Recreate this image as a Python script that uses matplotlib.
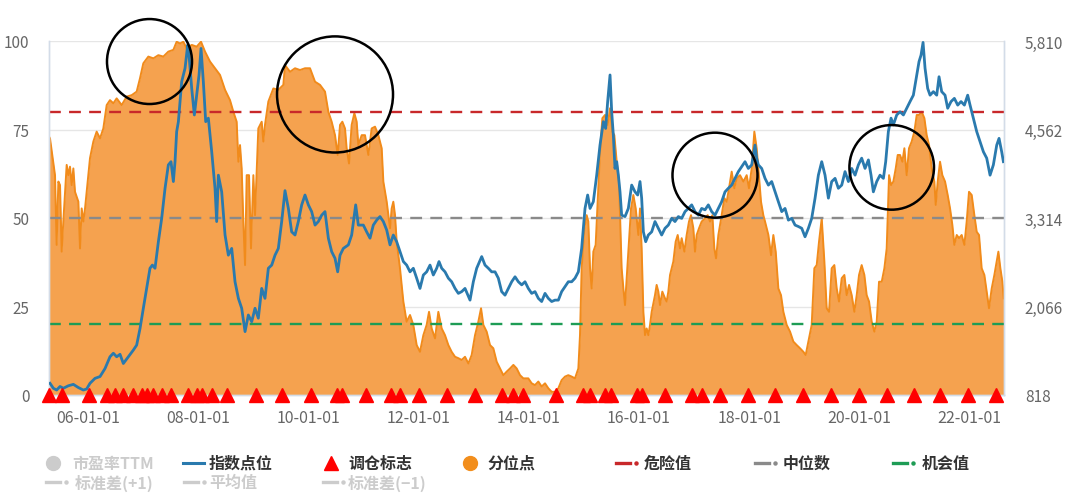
import matplotlib
matplotlib.use('Agg')
import matplotlib.pyplot as plt
from matplotlib.patches import Ellipse
from matplotlib.lines import Line2D

plt.rcParams['font.family'] = ['Noto Sans CJK SC', 'DejaVu Sans']

# 分位点 (left axis, %), x = decimal year
pct_dates = [
    2005.292, 2005.310, 2005.401, 2005.431, 2005.462, 2005.492, 2005.522, 2005.552, 2005.613, 2005.643,
    2005.673, 2005.704, 2005.734, 2005.764, 2005.825, 2005.855, 2005.885, 2005.915, 2005.946, 2005.976,
    2006.036, 2006.097, 2006.157, 2006.218, 2006.278, 2006.339, 2006.399, 2006.460, 2006.520, 2006.611,
    2006.702, 2006.793, 2006.883, 2006.944, 2007.004, 2007.095, 2007.186, 2007.277, 2007.367, 2007.458,
    2007.549, 2007.609, 2007.670, 2007.730, 2007.791, 2007.882, 2007.972, 2008.051, 2008.124, 2008.214,
    2008.305, 2008.396, 2008.487, 2008.577, 2008.638, 2008.698, 2008.729, 2008.759, 2008.789, 2008.819,
    2008.850, 2008.880, 2008.922, 2008.958, 2009.001, 2009.031, 2009.091, 2009.152, 2009.182, 2009.212,
    2009.273, 2009.364, 2009.454, 2009.545, 2009.575, 2009.666, 2009.757, 2009.848, 2009.938, 2010.029,
    2010.120, 2010.211, 2010.301, 2010.362, 2010.422, 2010.483, 2010.531, 2010.574, 2010.616, 2010.664,
    2010.694, 2010.737, 2010.785, 2010.834, 2010.876, 2010.906, 2010.967, 2011.027, 2011.088, 2011.148,
    2011.209, 2011.269, 2011.330, 2011.360, 2011.421, 2011.481, 2011.511, 2011.541, 2011.572, 2011.602,
    2011.662, 2011.723, 2011.783, 2011.844, 2011.904, 2011.965, 2012.025, 2012.086, 2012.146, 2012.189,
    2012.237, 2012.298, 2012.358, 2012.419, 2012.479, 2012.540, 2012.600, 2012.661, 2012.721, 2012.782,
    2012.842, 2012.903, 2012.963, 2013.024, 2013.084, 2013.133, 2013.175, 2013.235, 2013.296, 2013.356,
    2013.417, 2013.477, 2013.538, 2013.598, 2013.659, 2013.720, 2013.780, 2013.841, 2013.901, 2013.991,
    2014.052, 2014.112, 2014.173, 2014.233, 2014.294, 2014.354, 2014.415, 2014.475, 2014.536, 2014.596,
    2014.657, 2014.717, 2014.778, 2014.838, 2014.899, 2014.929, 2014.959, 2015.008, 2015.050, 2015.080,
    2015.111, 2015.141, 2015.171, 2015.213, 2015.250, 2015.292, 2015.335, 2015.383, 2015.431, 2015.474,
    2015.516, 2015.552, 2015.595, 2015.637, 2015.685, 2015.716, 2015.746, 2015.806, 2015.855, 2015.897,
    2015.940, 2015.988, 2016.018, 2016.048, 2016.079, 2016.109, 2016.139, 2016.169, 2016.200, 2016.230,
    2016.290, 2016.320, 2016.351, 2016.381, 2016.423, 2016.472, 2016.502, 2016.532, 2016.563, 2016.593,
    2016.623, 2016.665, 2016.702, 2016.744, 2016.774, 2016.823, 2016.865, 2016.907, 2016.944, 2016.986,
    2017.016, 2017.046, 2017.089, 2017.137, 2017.198, 2017.246, 2017.289, 2017.331, 2017.367, 2017.398,
    2017.440, 2017.470, 2017.500, 2017.549, 2017.591, 2017.633, 2017.682, 2017.730, 2017.773, 2017.833,
    2017.894, 2017.954, 2017.996, 2018.045, 2018.093, 2018.135, 2018.166, 2018.214, 2018.256, 2018.287,
    2018.348, 2018.396, 2018.438, 2018.481, 2018.529, 2018.577, 2018.620, 2018.680, 2018.741, 2018.801,
    2018.862, 2018.922, 2018.983, 2019.025, 2019.074, 2019.134, 2019.182, 2019.225, 2019.267, 2019.316,
    2019.364, 2019.406, 2019.449, 2019.497, 2019.545, 2019.588, 2019.630, 2019.679, 2019.727, 2019.769,
    2019.812, 2019.860, 2019.908, 2019.951, 2019.993, 2020.041, 2020.090, 2020.132, 2020.175, 2020.223,
    2020.271, 2020.314, 2020.356, 2020.405, 2020.453, 2020.495, 2020.538, 2020.574, 2020.616, 2020.659,
    2020.695, 2020.737, 2020.780, 2020.816, 2020.858, 2020.900, 2020.949, 2020.997, 2021.040, 2021.082,
    2021.130, 2021.179, 2021.221, 2021.264, 2021.312, 2021.360, 2021.385, 2021.421, 2021.463, 2021.505,
    2021.554, 2021.602, 2021.645, 2021.687, 2021.723, 2021.766, 2021.808, 2021.856, 2021.905, 2021.947,
    2021.989, 2022.038, 2022.086, 2022.129, 2022.171, 2022.219, 2022.268, 2022.310, 2022.352, 2022.401,
    2022.449, 2022.492, 2022.522, 2022.558, 2022.595, 2022.619,
]
pct_values = [
    73.0, 72.5, 62.1, 42.4, 60.3, 59.3, 40.5, 49.0, 65.0, 62.1,
    64.5, 59.3, 64.0, 57.4, 54.6, 41.4, 52.7, 49.0, 52.7, 57.4,
    66.9, 71.6, 74.4, 72.5, 75.3, 81.9, 83.3, 82.4, 83.8, 81.9,
    84.3, 84.7, 85.7, 89.5, 93.7, 95.6, 95.1, 96.0, 95.6, 97.0,
    97.5, 99.8, 99.3, 99.8, 97.9, 98.9, 98.4, 99.8, 97.0, 94.2,
    92.3, 90.4, 86.2, 83.3, 80.0, 77.2, 65.9, 70.6, 64.0, 49.0,
    36.7, 62.1, 62.1, 41.4, 62.1, 50.8, 75.3, 77.2, 71.6, 76.3,
    82.9, 86.6, 86.2, 87.6, 93.2, 91.3, 92.3, 91.8, 92.3, 92.3,
    88.5, 87.6, 85.7, 80.0, 77.2, 73.4, 67.8, 76.3, 77.2, 75.3,
    69.7, 65.4, 76.3, 79.6, 77.2, 70.6, 73.4, 73.4, 67.8, 75.3,
    75.8, 73.4, 69.7, 60.3, 54.6, 47.1, 52.7, 54.6, 50.8, 43.3,
    35.8, 26.4, 20.7, 22.6, 19.8, 14.1, 12.2, 16.9, 19.8, 23.5,
    18.8, 16.0, 23.5, 18.8, 16.9, 14.1, 12.2, 10.8, 10.4, 9.9,
    10.8, 8.9, 11.3, 16.9, 20.7, 24.5, 19.8, 17.9, 14.1, 13.2,
    9.4, 7.5, 5.6, 6.6, 7.5, 8.5, 7.5, 5.6, 4.7, 4.7,
    3.3, 2.8, 3.8, 2.4, 3.3, 1.9, 0.9, 0.9, 1.9, 4.2,
    5.2, 5.6, 5.2, 4.7, 7.5, 16.9, 35.8, 47.1, 50.8, 49.0,
    35.8, 30.1, 40.5, 42.4, 54.6, 68.7, 78.2, 79.1, 76.3, 81.0,
    74.4, 73.4, 65.9, 60.3, 35.8, 30.1, 25.4, 40.5, 52.7, 56.5,
    52.7, 45.2, 52.7, 41.4, 23.5, 16.9, 18.8, 16.9, 19.8, 23.5,
    28.2, 31.1, 29.2, 25.4, 29.2, 27.3, 26.4, 29.2, 33.9, 35.8,
    37.7, 43.3, 45.2, 41.4, 44.3, 40.5, 45.2, 49.0, 50.8, 47.1,
    40.5, 45.2, 47.1, 49.0, 49.9, 50.8, 49.0, 50.8, 41.4, 38.6,
    45.2, 48.0, 50.8, 55.6, 54.6, 58.4, 63.1, 58.4, 61.2, 62.1,
    60.3, 62.1, 58.4, 64.0, 74.4, 69.7, 64.0, 54.6, 50.8, 49.0,
    45.2, 39.5, 45.2, 40.5, 30.1, 28.2, 23.5, 19.8, 17.9, 15.1,
    14.1, 13.2, 12.2, 11.3, 15.1, 19.8, 35.8, 36.7, 43.3, 49.9,
    37.7, 24.5, 23.5, 35.8, 36.7, 30.1, 26.4, 33.0, 33.9, 28.2,
    31.1, 28.2, 23.5, 28.2, 33.9, 36.7, 33.9, 28.2, 26.4, 20.7,
    17.9, 20.7, 32.0, 32.0, 35.8, 41.4, 62.1, 59.3, 60.3, 64.0,
    67.8, 67.8, 65.9, 69.7, 62.1, 69.7, 71.6, 74.4, 79.1, 79.1,
    80.0, 78.2, 73.4, 70.6, 64.0, 60.3, 53.7, 60.3, 65.9, 62.1,
    60.3, 56.5, 52.7, 48.0, 42.4, 45.2, 44.3, 45.2, 42.4, 49.0,
    57.4, 56.5, 50.8, 46.1, 45.2, 35.8, 33.9, 29.2, 24.5, 30.1,
    33.9, 37.7, 40.5, 35.8, 32.0, 27.3,
]

# 指数点位 (right axis)
idx_dates = [
    2005.310, 2005.371, 2005.431, 2005.492, 2005.552, 2005.643, 2005.734, 2005.825, 2005.915, 2005.976,
    2006.036, 2006.127, 2006.218, 2006.309, 2006.399, 2006.460, 2006.520, 2006.581, 2006.641, 2006.732,
    2006.823, 2006.883, 2006.944, 2007.004, 2007.065, 2007.125, 2007.168, 2007.216, 2007.277, 2007.337,
    2007.398, 2007.458, 2007.506, 2007.549, 2007.579, 2007.609, 2007.640, 2007.700, 2007.761, 2007.809,
    2007.833, 2007.882, 2007.930, 2007.972, 2008.015, 2008.051, 2008.093, 2008.136, 2008.184, 2008.245,
    2008.305, 2008.335, 2008.366, 2008.426, 2008.487, 2008.547, 2008.608, 2008.668, 2008.729, 2008.789,
    2008.850, 2008.910, 2008.971, 2009.031, 2009.091, 2009.152, 2009.212, 2009.273, 2009.334, 2009.394,
    2009.454, 2009.515, 2009.575, 2009.636, 2009.696, 2009.757, 2009.817, 2009.878, 2009.938, 2009.999,
    2010.059, 2010.120, 2010.180, 2010.241, 2010.301, 2010.362, 2010.422, 2010.483, 2010.531, 2010.574,
    2010.634, 2010.725, 2010.785, 2010.858, 2010.906, 2010.997, 2011.057, 2011.118, 2011.178, 2011.239,
    2011.299, 2011.360, 2011.421, 2011.481, 2011.541, 2011.602, 2011.662, 2011.723, 2011.783, 2011.844,
    2011.904, 2011.965, 2012.025, 2012.086, 2012.146, 2012.207, 2012.267, 2012.328, 2012.370, 2012.419,
    2012.479, 2012.540, 2012.600, 2012.661, 2012.721, 2012.782, 2012.842, 2012.933, 2012.993, 2013.054,
    2013.145, 2013.205, 2013.266, 2013.326, 2013.387, 2013.447, 2013.507, 2013.568, 2013.629, 2013.689,
    2013.750, 2013.810, 2013.871, 2013.931, 2013.991, 2014.052, 2014.112, 2014.173, 2014.233, 2014.294,
    2014.354, 2014.415, 2014.475, 2014.536, 2014.596, 2014.657, 2014.717, 2014.778, 2014.838, 2014.899,
    2014.959, 2015.020, 2015.068, 2015.111, 2015.171, 2015.232, 2015.292, 2015.353, 2015.395, 2015.431,
    2015.474, 2015.504, 2015.534, 2015.564, 2015.595, 2015.625, 2015.655, 2015.685, 2015.746, 2015.806,
    2015.867, 2015.927, 2015.976, 2016.018, 2016.048, 2016.079, 2016.121, 2016.169, 2016.230, 2016.290,
    2016.351, 2016.411, 2016.472, 2016.532, 2016.593, 2016.653, 2016.714, 2016.774, 2016.835, 2016.895,
    2016.956, 2017.016, 2017.077, 2017.137, 2017.198, 2017.258, 2017.319, 2017.379, 2017.440, 2017.500,
    2017.561, 2017.621, 2017.682, 2017.742, 2017.803, 2017.863, 2017.924, 2017.984, 2018.045, 2018.105,
    2018.135, 2018.166, 2018.226, 2018.287, 2018.348, 2018.408, 2018.469, 2018.529, 2018.590, 2018.650,
    2018.711, 2018.771, 2018.832, 2018.892, 2018.953, 2019.013, 2019.074, 2019.134, 2019.195, 2019.255,
    2019.316, 2019.376, 2019.437, 2019.497, 2019.558, 2019.618, 2019.679, 2019.739, 2019.800, 2019.860,
    2019.921, 2019.981, 2020.041, 2020.102, 2020.163, 2020.211, 2020.253, 2020.314, 2020.374, 2020.435,
    2020.477, 2020.525, 2020.574, 2020.616, 2020.677, 2020.737, 2020.798, 2020.858, 2020.919, 2020.979,
    2021.040, 2021.082, 2021.118, 2021.155, 2021.191, 2021.239, 2021.282, 2021.342, 2021.403, 2021.445,
    2021.493, 2021.554, 2021.602, 2021.663, 2021.723, 2021.784, 2021.844, 2021.905, 2021.965, 2022.008,
    2022.068, 2022.129, 2022.189, 2022.250, 2022.310, 2022.371, 2022.431, 2022.492, 2022.534, 2022.582,
    2022.613,
]
idx_values = [
    983, 913, 888, 938, 913, 948, 968, 923, 888, 903,
    983, 1053, 1078, 1192, 1357, 1407, 1357, 1392, 1262, 1357,
    1452, 1522, 1756, 2041, 2321, 2605, 2650, 2605, 2980, 3309,
    3733, 4063, 4108, 3828, 4108, 4532, 4672, 5236, 5426, 5755,
    5610, 5141, 4767, 5046, 5331, 5705, 5236, 4672, 4722, 4248,
    3733, 3264, 3918, 3683, 3074, 2790, 2885, 2415, 2181, 2041,
    1712, 1946, 1851, 2041, 1901, 2321, 2181, 2605, 2650, 2790,
    2885, 3264, 3700, 3449, 3119, 3074, 3264, 3499, 3638, 3499,
    3404, 3214, 3264, 3354, 3404, 3029, 2840, 2745, 2555, 2790,
    2885, 2935, 3074, 3499, 3214, 3214, 3119, 3029, 3214, 3284,
    3334, 3264, 3144, 2935, 3074, 2980, 2840, 2700, 2650, 2555,
    2605, 2465, 2321, 2510, 2555, 2650, 2510, 2605, 2700, 2605,
    2555, 2465, 2415, 2321, 2251, 2276, 2321, 2156, 2415, 2605,
    2770, 2650, 2605, 2555, 2555, 2465, 2276, 2226, 2321, 2415,
    2485, 2415, 2371, 2415, 2321, 2251, 2276, 2181, 2136, 2251,
    2181, 2136, 2156, 2156, 2276, 2346, 2415, 2415, 2465, 2555,
    2885, 3449, 3638, 3449, 3544, 3918, 4342, 4672, 4577, 4956,
    5331, 4812, 4482, 4013, 4108, 3918, 3683, 3354, 3334, 3449,
    3778, 3683, 3638, 3828, 3594, 3119, 2980, 3074, 3119, 3264,
    3169, 3074, 3169, 3214, 3309, 3264, 3334, 3309, 3404, 3449,
    3499, 3404, 3354, 3449, 3429, 3499, 3404, 3354, 3449, 3544,
    3683, 3733, 3778, 3873, 3968, 4038, 4108, 4013, 4063, 4342,
    4158, 4063, 4013, 3873, 3778, 3828, 3683, 3544, 3404, 3449,
    3284, 3309, 3214, 3194, 3169, 3049, 3169, 3309, 3594, 3918,
    4108, 3918, 3594, 3828, 3873, 3733, 3778, 3968, 3828, 4013,
    3918, 4063, 4158, 4013, 4133, 3918, 3683, 3828, 3918, 3873,
    4108, 4532, 4722, 4627, 4767, 4812, 4767, 4862, 4956, 5046,
    5331, 5520, 5610, 5790, 5426, 5141, 5046, 5096, 5046, 5306,
    5096, 5046, 4862, 4956, 5001, 4906, 4956, 4906, 5046, 4906,
    4722, 4532, 4392, 4248, 4158, 3918, 4063, 4342, 4437, 4248,
    4108,
]

# 调仓标志
rebalance_dates = [
    2005.292, 2005.523, 2006.018, 2006.339, 2006.490, 2006.641, 2006.817, 2006.975, 2007.065, 2007.185,
    2007.338, 2007.506, 2007.820, 2007.973, 2008.064, 2008.245, 2008.517, 2009.044, 2009.515, 2010.047,
    2010.514, 2010.615, 2011.040, 2011.499, 2011.662, 2012.007, 2012.521, 2013.024, 2013.508, 2013.719,
    2013.895, 2014.488, 2014.989, 2015.111, 2015.383, 2015.492, 2015.958, 2016.049, 2016.472, 2016.956,
    2017.138, 2017.470, 2017.973, 2018.468, 2018.982, 2019.485, 2019.993, 2020.495, 2020.996, 2021.462,
    2021.965, 2022.474,
]

danger_value = 80
median_value = 50
chance_value = 20

left_ticks = [0, 25, 50, 75, 100]
right_ticks = [818, 2066, 3314, 4562, 5810]
x_tick_years = [2006, 2008, 2010, 2012, 2014, 2016, 2018, 2020, 2022]
x_tick_labels = ['06-01-01', '08-01-01', '10-01-01', '12-01-01', '14-01-01',
                 '16-01-01', '18-01-01', '20-01-01', '22-01-01']

# hand-drawn circles: (year, percentile) centre, width in years, height in %
circle_centers = [(2007.116, 94.2), (2010.483, 84.9), (2017.379, 62.1), (2020.586, 64.3)]
circle_widths = [1.543, 2.105, 1.543, 1.535]
circle_heights = [24.0, 32.8, 24.0, 23.9]

W, H = 1080, 502
fig = plt.figure(figsize=(W / 100, H / 100), dpi=100)
ax = fig.add_axes([49 / W, 106 / H, 955 / W, 354 / H])
ax2 = ax.twinx()

orange_fill = '#F5A24F'
orange_line = '#F18B1B'
blue = '#2A7AAE'
axis_col = '#d3dce8'
label_col = '#666666'

ax.grid(axis='y', color='#e6e6e6', lw=1, zorder=0)
ax.set_axisbelow(True)
ax.fill_between(pct_dates, pct_values, 0, color=orange_fill, lw=0, zorder=1)
ax.plot(pct_dates, pct_values, color=orange_line, lw=1.4, zorder=2)
ax.axhline(danger_value, color='#C8282A', lw=1.7, dashes=(5, 3.5), zorder=3)
ax.axhline(median_value, color='#8A8A8A', lw=1.7, dashes=(5, 3.5), zorder=3)
ax.axhline(chance_value, color='#1E9C55', lw=1.7, dashes=(5, 3.5), zorder=3)

ax.set_xlim(2005.292, 2022.624)
ax.set_ylim(0, 100)
ax.set_yticks(left_ticks)
ax.set_xticks(x_tick_years)
ax.set_xticklabels(x_tick_labels)
ax.tick_params(axis='y', length=0, pad=14, labelsize=11, labelcolor=label_col)
ax.tick_params(axis='x', length=4, width=1, color=axis_col, pad=6, labelsize=11.5, labelcolor=label_col)

ax2.plot(idx_dates, idx_values, color=blue, lw=2.0, zorder=4)
ax2.set_ylim(818, 5810)
ax2.set_yticks(right_ticks)
ax2.set_yticklabels([f'{v:,}' for v in right_ticks])
ax2.tick_params(axis='y', length=0, pad=15, labelsize=11, labelcolor=label_col)
ax2.plot(rebalance_dates, [0] * len(rebalance_dates), linestyle='none', marker='^',
         ms=10, color='#FF0000', transform=ax2.get_xaxis_transform(), clip_on=False, zorder=5)

for c, w, h in zip(circle_centers, circle_widths, circle_heights):
    ax2.add_patch(Ellipse(c, w, h, transform=ax.transData, fill=False, ec='black',
                          lw=1.8, clip_on=False, zorder=10))

for a in (ax, ax2):
    a.spines['top'].set_visible(False)
    for s in ('left', 'right', 'bottom'):
        a.spines[s].set_color(axis_col)
        a.spines[s].set_linewidth(1)


# legend, drawn by hand in pixel positions
def fxy(x, y):
    return x / W, 1 - y / H


legend_items = [
    # kind, colour, label, marker x, text x, row y, active
    ('circle', '#cccccc', '市盈率TTM', 53, 72, 464, False),
    ('line', blue, '指数点位', 193, 209, 464, True),
    ('tri', '#FF0000', '调仓标志', 331, 348, 464, True),
    ('circle', '#F28E1C', '分位点', 470, 487, 464, True),
    ('dashdot', '#C8282A', '危险值', 623, 644, 464, True),
    ('dashdot', '#8A8A8A', '中位数', 762, 783, 464, True),
    ('dashdot', '#1E9C55', '机会值', 900, 922, 464, True),
    ('dashdot', '#cccccc', '标准差(+1)', 53, 75, 483, False),
    ('dashdot', '#cccccc', '平均值', 191, 209, 483, False),
    ('dashdot', '#cccccc', '标准差(−1)', 330, 348, 483, False),
]
for kind, col, label, mx, tx, y, active in legend_items:
    if kind == 'circle':
        fig.add_artist(Line2D(*zip(fxy(mx, y)), marker='o', ms=10, color=col, lw=0,
                              transform=fig.transFigure))
    elif kind == 'tri':
        fig.add_artist(Line2D(*zip(fxy(mx, y)), marker='^', ms=10, color=col, lw=0,
                              transform=fig.transFigure))
    elif kind == 'line':
        (x0, y0), (x1, y1) = fxy(mx - 10, y), fxy(mx + 11, y)
        fig.add_artist(Line2D([x0, x1], [y0, y1], color=col, lw=2.2, transform=fig.transFigure))
    else:
        (x0, y0), (x1, y1) = fxy(mx - 7, y), fxy(mx + 7, y)
        fig.add_artist(Line2D([x0, x1], [y0, y1], color=col, lw=2.4, transform=fig.transFigure))
        fig.add_artist(Line2D(*zip(fxy(mx + 13, y)), marker='o', ms=2.2, color=col, lw=0,
                              transform=fig.transFigure))
    fig.text(*fxy(tx, y), label, fontsize=11.5, va='center', ha='left',
             color='#333333' if active else '#cccccc', fontweight='bold')

fig.savefig('out.png', dpi=100)
